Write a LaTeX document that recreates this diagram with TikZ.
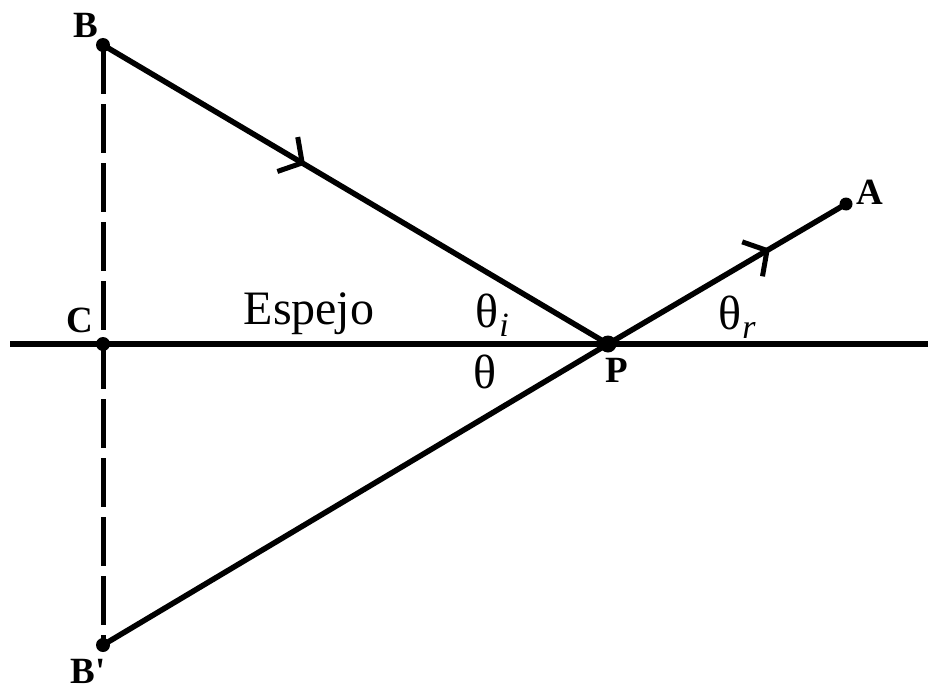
\documentclass[tikz,border=0pt]{standalone}
\usepackage{fontspec}
\setmainfont{Liberation Serif}
\usetikzlibrary{arrows.meta,decorations.markings}
\tikzset{
  ray/.style={line width=5.5pt},
  dot/.style={circle,fill=black,inner sep=0pt,minimum size=#1},
  ptlabel/.style={font=\fontsize{37}{37}\selectfont\bfseries,inner sep=0pt},
  anglabel/.style={font=\fontsize{48}{48}\selectfont,inner sep=0pt},
  midarrow/.style={postaction={decorate},decoration={markings,
    mark=at position #1 with {\arrow[line width=5pt]{Straight Barb[length=17pt,width=40pt]}}}}
}
\begin{document}
\begin{tikzpicture}[x=1pt,y=-1pt]
\useasboundingbox[fill=white] (0,0) rectangle (928,693);
\coordinate (L) at (10,344);
\coordinate (R) at (928,344);
\coordinate (B) at (103,45);
\coordinate (C) at (103,344);
\coordinate (Bp) at (103,645);
\coordinate (P) at (608,344);
\coordinate (A) at (846,204);
\draw[ray] (L) -- (R);
\draw[line width=5pt,dash pattern=on 49pt off 10pt] (B) -- (Bp);
\draw[ray,midarrow=0.4] (B) -- (P);
\draw[ray,midarrow=0.68] (P) -- (A);
\draw[ray] (P) -- (Bp);
\node[dot=14pt] (dB) at (B) {};
\node[dot=14pt] (dC) at (C) {};
\node[dot=14pt] (dBp) at (Bp) {};
\node[dot=17pt] (dP) at (P) {};
\node[dot=13pt] (dA) at (A) {};
\node[ptlabel] (lB) at (86,25) {B};
\node[ptlabel] (lC) at (80,320) {C};
\node[ptlabel] (lBp) at (88,671) {B\textquotesingle};
\node[ptlabel] (lP) at (617,370) {P};
\node[ptlabel] (lA) at (870,192) {A};
\node[anglabel] (esp) at (309,314) {Espejo};
\node[anglabel] (ti) at (492,315) {θ\kern1pt\raisebox{-9pt}{\fontsize{34}{34}\selectfont\itshape i}};
\node[anglabel] (th) at (485,372) {θ};
\node[anglabel] (tr) at (737,317) {θ\kern1pt\raisebox{-9pt}{\fontsize{34}{34}\selectfont\itshape r}};
\end{tikzpicture}
\end{document}
